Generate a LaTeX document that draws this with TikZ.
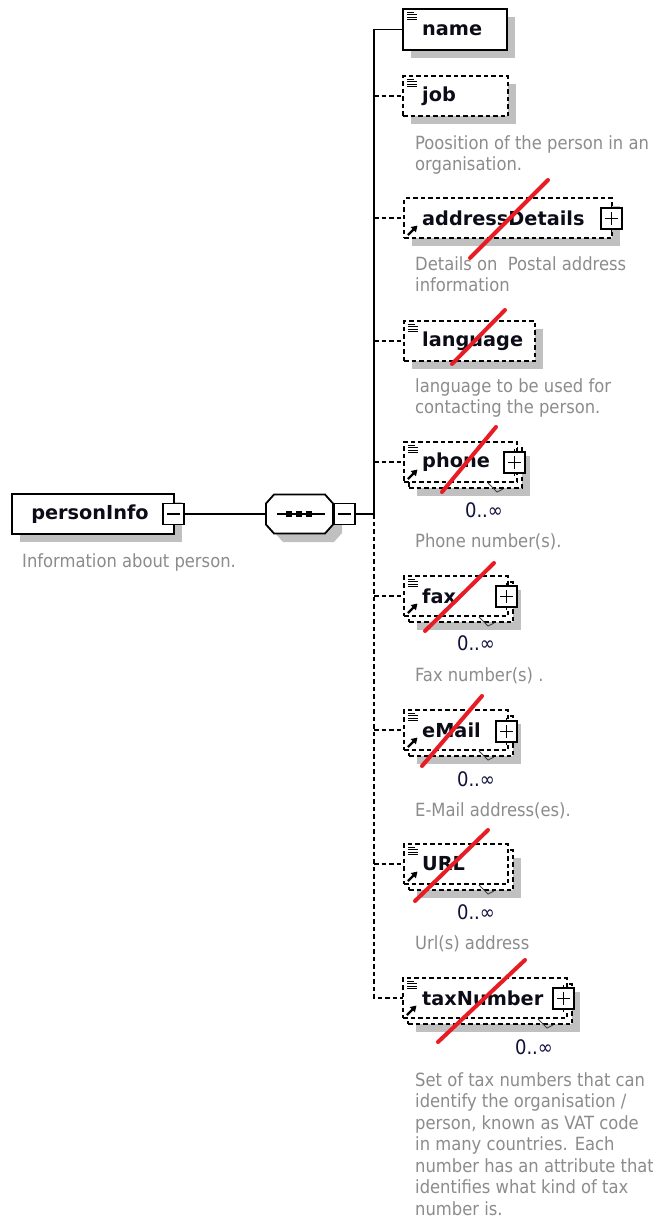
\documentclass[tikz,border=0pt]{standalone}
\usepackage{fontspec}
\setmainfont{DejaVu Sans}
\newfontfamily\descfont{DejaVu Sans Condensed}
\usetikzlibrary{arrows.meta}
\definecolor{shadowc}{RGB}{192,192,192}
\definecolor{descc}{RGB}{140,140,140}
\definecolor{slashc}{RGB}{232,28,36}
\definecolor{namec}{RGB}{12,12,24}
\definecolor{occc}{RGB}{16,16,60}
\tikzset{
 elbox/.style={draw=black, fill=white, line width=1.8pt, inner sep=0pt, outer sep=0pt, rectangle},
 optbox/.style={elbox, dash pattern=on 4.5pt off 3pt},
 sgnbox/.style={draw=black, fill=white, line width=1.5pt, inner sep=0pt, outer sep=0pt, rectangle, minimum width=21pt, minimum height=21pt},
 conn/.style={line width=1.8pt, draw=black},
 optconn/.style={conn, dash pattern=on 4.5pt off 3pt},
 nametext/.style={font=\fontsize{19.3}{23}\selectfont\bfseries, text=namec, inner sep=0pt, anchor=west},
 desctext/.style={font=\descfont\fontsize{18.2}{21.5}\selectfont, text=descc, inner sep=0pt, align=left, anchor=north west},
 occtext/.style={font=\descfont\fontsize{20}{22}\selectfont, text=occc, inner sep=0pt},
 slash/.style={draw=slashc, line width=4pt, line cap=round},
 iconline/.style={line width=1pt, draw=black},
}
\newcommand\shd[4]{\fill[shadowc] ({#1+8},{#2+8}) rectangle ({#3+8},{#4+8});}
\newcommand\ebx[6]{\node[#6, minimum width={(#4)-(#2)}, minimum height={(#5)-(#3)}, anchor=north west] (#1) at ({#2},{#3}) {};}
\newcommand\multi[5]{%
 \shd{#2+5}{#3+6}{#4+5}{#5+6}%
 \ebx{#1B}{#2+5}{#3+6}{#4+5}{#5+6}{optbox}%
 \ebx{#1}{#2}{#3}{#4}{#5}{optbox}}
\newcommand\txicon[2]{\draw[iconline] ({#1+4},{#2+3}) -- ++(7,0) ({#1+4},{#2+5.5}) -- ++(10,0) ({#1+4},{#2+8}) -- ++(10,0) ({#1+4},{#2+10.5}) -- ++(10,0);}
\newcommand\refarrow[2]{\draw[line width=2.4pt, -{Triangle[length=6pt,width=7pt]}] ({#1+4},{#2-3}) -- ++(9.5,-9.5);}
\newcommand\mbx[3]{\node[sgnbox, anchor=north west] (#1) at (#2,#3) {};
 \draw[line width=1.5pt] ([xshift=4pt]#1.west) -- ([xshift=-4pt]#1.east);}
\newcommand\pbx[3]{\node[sgnbox, anchor=north west] (#1) at (#2,#3) {};
 \draw[line width=1.5pt] ([xshift=4pt]#1.west) -- ([xshift=-4pt]#1.east) ([yshift=-4pt]#1.north) -- ([yshift=4pt]#1.south)
   (#1.north) -- ([yshift=3pt]#1.north) (#1.south) -- ([yshift=-3pt]#1.south);}
\newcommand\notch[2]{\draw[line width=0.9pt, black!75] ({#1-34},{#2-5}) -- ({#1-25},{#2+4}) -- ({#1-19},{#2+1});}
\newcommand\octa[3]{% cx cy style
 \path[#3] ({#1-25.5},{#2-19.5}) -- ({#1+25.5},{#2-19.5}) -- ({#1+33.5},{#2-10.5}) -- ({#1+33.5},{#2+10.5}) -- ({#1+25.5},{#2+19.5}) -- ({#1-25.5},{#2+19.5}) -- ({#1-33.5},{#2+10.5}) -- ({#1-33.5},{#2-10.5}) -- cycle;}
\begin{document}
\begin{tikzpicture}[x=1pt,y=-1pt]
\fill[white] (0,0) rectangle (653,1221);
\useasboundingbox (0,0) rectangle (653,1221);
% root element
\shd{12}{494}{174}{534}
\ebx{root}{12}{494}{174}{534}{elbox}
\node[nametext, anchor=center] (roottxt) at (90,514) {personInfo};
\mbx{pm}{163}{503.5}
\node[desctext] (rootdesc) at (22,553) {Information about person.};
% sequence
\octa{308.5}{522.5}{fill=shadowc}
\octa{299.5}{514}{draw=black, fill=white, line width=1.8pt}
\node[minimum width=67pt, minimum height=39pt, inner sep=0pt, outer sep=0pt] (seq) at (299.5,514) {};
\draw[line width=1.8pt] (277,514) -- (325,514);
\foreach \xx in {289,299,309} \fill (\xx-2.8,511.2) rectangle (\xx+2.8,516.8);
\mbx{sm}{334}{503.5}
% name
\shd{403}{9}{507}{50}
\ebx{name}{403}{9}{507}{50}{elbox}
\txicon{403}{9}
\node[nametext] (nametxt) at (422,30) {name};
% job
\shd{403}{76}{508}{116}
\ebx{job}{403}{76}{508}{116}{optbox}
\txicon{403}{76}
\node[nametext] (jobtxt) at (422,96) {job};
\node[desctext] (jobdesc) at (415,135) {Poosition of the person in an\\organisation.};
% addressDetails
\shd{404}{198}{612}{238}
\ebx{addr}{404}{198}{612}{238}{optbox}
\refarrow{404}{238}
\node[nametext] (addrtxt) at (422,218) {addressDetails};
\pbx{addrp}{601}{208}
\node[desctext] (addrdesc) at (415,256) {Details on\ \ Postal address\\information};
% language
\shd{404}{321}{535}{361}
\ebx{lang}{404}{321}{535}{361}{optbox}
\txicon{404}{321}
\node[nametext] (langtxt) at (422,341) {language};
\node[desctext] (langdesc) at (415,378) {language to be used for\\contacting the person.};
% phone
\multi{phone}{404}{442}{517}{482}
\notch{522}{488}
\txicon{404}{442}
\refarrow{404}{482}
\node[nametext] (phonetxt) at (422,462) {phone};
\pbx{phonep}{504}{452}
\node[occtext] (phoneocc) at (484,510) {0..∞};
\node[desctext] (phonedesc) at (415,533) {Phone number(s).};
% fax
\multi{fax}{404}{576}{508}{616}
\notch{513}{622}
\txicon{404}{576}
\refarrow{404}{616}
\node[nametext] (faxtxt) at (422,596) {fax};
\pbx{faxp}{496}{586}
\node[occtext] (faxocc) at (476,643) {0..∞};
\node[desctext] (faxdesc) at (415,667) {Fax number(s) .};
% eMail
\multi{email}{404}{710}{508}{750}
\notch{513}{756}
\txicon{404}{710}
\refarrow{404}{750}
\node[nametext] (emailtxt) at (422,730) {eMail};
\pbx{emailp}{496}{721}
\node[occtext] (emailocc) at (476,779) {0..∞};
\node[desctext] (emaildesc) at (415,802) {E-Mail address(es).};
% URL
\multi{url}{404}{844}{508}{884}
\notch{513}{890}
\txicon{404}{844}
\refarrow{404}{884}
\node[nametext] (urltxt) at (422,864) {URL};
\node[occtext] (urlocc) at (476,912) {0..∞};
\node[desctext] (urldesc) at (415,935) {Url(s) address};
% taxNumber
\multi{tax}{403}{978}{567}{1018}
\notch{572}{1024}
\txicon{403}{978}
\refarrow{403}{1018}
\node[nametext] (taxtxt) at (422,998) {taxNumber};
\pbx{taxp}{553}{988}
\node[occtext] (taxocc) at (534,1047) {0..∞};
\node[desctext] (taxdesc) at (415,1072) {Set of tax numbers that can\\identify the organisation /\\person, known as VAT code\\in many countries. Each\\number has an attribute that\\identifies what kind of tax\\number is.};
% connectors
\coordinate (vj) at (374,514);
\draw[conn] (pm.east) -- (seq.west);
\draw[conn] (sm.east) -- (vj);
\draw[conn] (vj) |- (name.west);
\draw[optconn] (vj) |- (tax.west);
\foreach \el in {job,addr,lang,phone,fax,email,url}
  \draw[optconn] (vj |- \el.west) -- (\el.west);
% red slashes
\draw[slash] (470,258) -- (548,180);
\draw[slash] (452,364) -- (505,310);
\draw[slash] (442,492) -- (496,427);
\draw[slash] (425,631) -- (494,563);
\draw[slash] (422,766) -- (482,696);
\draw[slash] (415,901) -- (488,830);
\draw[slash] (438,1042) -- (525,960);
\end{tikzpicture}
\end{document}
